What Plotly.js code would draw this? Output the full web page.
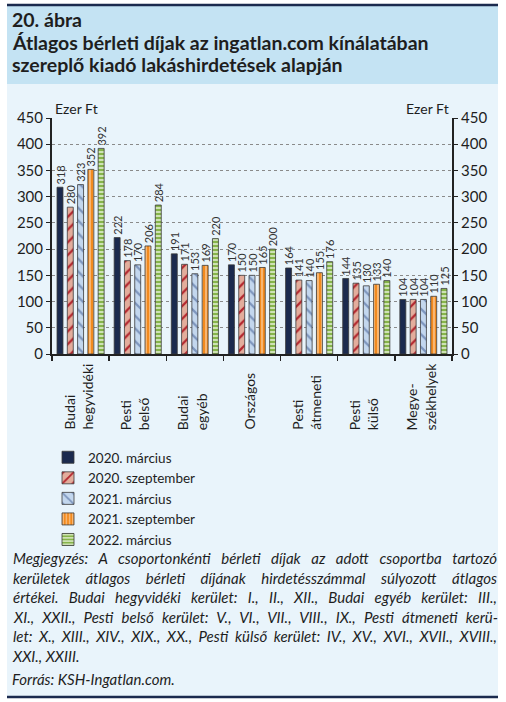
<!DOCTYPE html>
<html>
<head>
<meta charset="utf-8">
<script src="https://cdn.plot.ly/plotly-3.0.1.min.js"></script>
<style>
html,body{margin:0;padding:0;background:#fff;}
#chart{width:506px;height:702px;}
</style>
</head>
<body>
<div id="chart"></div>
<script>
// ---- data ----
const categories = ["Budai hegyvidéki","Pesti belső","Budai egyéb","Országos","Pesti átmeneti","Pesti külső","Megyeszékhelyek"];
const categoryLabels = ["Budai<br>hegyvidéki","Pesti<br>belső","Budai<br>egyéb","Országos","Pesti<br>átmeneti","Pesti<br>külső","Megye-<br>székhelyek"];
const seriesNames = ["2020. március","2020. szeptember","2021. március","2021. szeptember","2022. március"];
const v2020mar = [318,222,191,170,164,144,104];
const v2020sep = [280,178,171,150,141,135,104];
const v2021mar = [323,170,153,150,140,130,104];
const v2021sep = [352,206,169,165,155,133,110];
const v2022mar = [392,284,220,200,176,140,125];
const yTicks = [0,50,100,150,200,250,300,350,400,450];
const titleLines = ["20. ábra","Átlagos bérleti díjak az ingatlan.com kínálatában","szereplő kiadó lakáshirdetések alapján"];
const noteLines = [
 "Megjegyzés: A csoportonkénti bérleti díjak az adott csoportba tartozó",
 "kerületek átlagos bérleti díjának hirdetésszámmal súlyozott átlagos",
 "értékei. Budai hegyvidéki kerület: I., II., XII., Budai egyéb kerület: III.,",
 "XI., XXII., Pesti belső kerület: V., VI., VII., VIII., IX., Pesti átmeneti kerü-",
 "let: X., XIII., XIV., XIX., XX., Pesti külső kerület: IV., XV., XVI., XVII., XVIII.,",
 "XXI., XXIII."
];
const sourceLine = "Forrás: KSH-Ingatlan.com.";
const unitLabel = "Ezer Ft";

// ---- layout helpers ----
const W = 506, H = 702;
const xp = px => px / W;
const yp = py => 1 - py / H;
const FONT = "Lato, 'Open Sans', sans-serif";
const TXT = "#1e1e1e";
const NOTE_LEFT = 10;      // annotation anchor (box edge)
const NOTE_TEXT_LEFT = 13; // visible left edge of the justified lines

const styles = [
  {color:"#1b2a4e", pattern:{shape:""}},
  {color:"#e3ad9c", pattern:{shape:"/", fgcolor:"#b3262e", bgcolor:"#e3ad9c", size:9, solidity:0.25}},
  {color:"#c3d7ee", pattern:{shape:"\\", fgcolor:"#7d95bd", bgcolor:"#c3d7ee", size:9, solidity:0.25}},
  {color:"#f28a1e", pattern:{shape:"|", fgcolor:"#fcd3a8", bgcolor:"#f28a1e", size:4, solidity:0.3}},
  {color:"#86b44a", pattern:{shape:"-", fgcolor:"#eef6e2", bgcolor:"#86b44a", size:4, solidity:0.35}}
];
const values = [v2020mar, v2020sep, v2021mar, v2021sep, v2022mar];

const traces = values.map((vals, i) => ({
  type: "bar",
  name: seriesNames[i],
  x: categories,
  y: vals,
  text: vals.map(v => "\u00a0" + v),
  textposition: "outside",
  textangle: -90,
  cliponaxis: false,
  constraintext: "none",
  textfont: {family: FONT, size: 11, color: "#333"},
  marker: {
    color: styles[i].color,
    pattern: styles[i].pattern,
    line: {color: "#3a3a3a", width: 0.8}
  },
  hoverinfo: "skip"
}));
// invisible trace carrying the right-hand axis
traces.push({type:"scatter", x:[categories[0]], y:[0], yaxis:"y2", showlegend:false, mode:"markers", marker:{opacity:0}, hoverinfo:"skip"});

const annotations = [];
titleLines.forEach((t, i) => annotations.push({
  xref:"paper", yref:"paper", x:xp(10), y:yp(19 + i*23), xanchor:"left", yanchor:"middle",
  text:"<b>"+t+"</b>", showarrow:false, font:{family:FONT, size:19.5, color:TXT}
}));
categoryLabels.forEach((t, i) => annotations.push({
  xref:"x", yref:"paper", x:categories[i], y:yp(432), xanchor:"center", yanchor:"bottom",
  xshift:-3, text:t, textangle:-90, align:"left", showarrow:false,
  font:{family:FONT, size:14, color:TXT}
}));
annotations.push({xref:"paper", yref:"paper", x:xp(53), y:yp(108), xanchor:"left", yanchor:"middle",
  text:unitLabel, showarrow:false, font:{family:FONT, size:14, color:TXT}});
annotations.push({xref:"paper", yref:"paper", x:xp(451), y:yp(108), xanchor:"right", yanchor:"middle",
  text:unitLabel, showarrow:false, font:{family:FONT, size:14, color:TXT}});
const noteStart = annotations.length;
noteLines.forEach((t, i) => annotations.push({
  xref:"paper", yref:"paper", x:xp(NOTE_LEFT), y:yp(558 + i*19.5), xanchor:"left", yanchor:"middle",
  text:"<i>"+t+"</i>", showarrow:false, font:{family:FONT, size:15, color:TXT}
}));
annotations.push({xref:"paper", yref:"paper", x:xp(NOTE_LEFT), y:yp(679), xanchor:"left", yanchor:"middle",
  text:"<i>"+sourceLine+"</i>", showarrow:false, font:{family:FONT, size:15, color:TXT}});

const shapes = [
  {type:"rect", xref:"paper", yref:"paper", x0:xp(7), x1:xp(498), y0:yp(84), y1:yp(6), fillcolor:"#c4e3f3", line:{width:0}, layer:"below"},
  {type:"rect", xref:"paper", yref:"paper", x0:xp(7), x1:xp(498), y0:yp(696), y1:yp(84), fillcolor:"#e9f4fb", line:{width:0}, layer:"below"},
  {type:"line", xref:"paper", yref:"paper", x0:xp(7), x1:xp(498), y0:yp(5), y1:yp(5), line:{color:"#1b2a4e", width:2.5}},
  {type:"line", xref:"paper", yref:"paper", x0:xp(7), x1:xp(498), y0:yp(697), y1:yp(697), line:{color:"#1b2a4e", width:2.5}}
];

const axisFont = {family:FONT, size:15, color:TXT};
const layout = {
  width: W, height: H,
  margin: {l:0, r:0, t:0, b:0},
  paper_bgcolor: "#ffffff",
  plot_bgcolor: "rgba(0,0,0,0)",
  font: {family: FONT},
  barmode: "group",
  bargap: 0.1,
  bargroupgap: 0.42,
  showlegend: true,
  legend: {
    x: xp(48), y: yp(442), xanchor:"left", yanchor:"top",
    bgcolor:"rgba(0,0,0,0)", font:{family:FONT, size:13.5, color:TXT},
    tracegroupgap:0, itemwidth:30, traceorder:"normal"
  },
  xaxis: {
    domain: [xp(52), xp(452)],
    type: "category",
    showticklabels: false,
    showline: true, linecolor:"#222", linewidth: 2,
    ticks: "outside", ticklen: 5, tickcolor:"#222", tickwidth: 1.5,
    tickson: "boundaries",
    showgrid: false, fixedrange: true
  },
  yaxis: {
    domain: [yp(354), yp(118)],
    range: [0, 450],
    tickvals: yTicks,
    ticktext: yTicks.map(String),
    showline: true, linecolor:"#222", linewidth: 2,
    ticks: "outside", ticklen: 4, tickcolor:"#222",
    showgrid: true, gridcolor:"#8a8a8a", griddash:"dot", gridwidth: 1,
    zeroline: false,
    tickfont: axisFont
  },
  yaxis2: {
    overlaying: "y", side: "right", anchor:"x",
    range: [0, 450],
    tickvals: yTicks,
    ticktext: yTicks.map(String),
    showline: true, linecolor:"#222", linewidth: 2,
    ticks: "outside", ticklen: 4, tickcolor:"#222",
    showgrid: false, zeroline: false,
    tickfont: axisFont
  },
  annotations: annotations,
  shapes: shapes
};

Plotly.newPlot("chart", traces, layout, {displayModeBar:false, staticPlot:true}).then(gd => {
  // justify the note lines (all but the last one), as in the printed original
  const rightEdge = 497;
  const anns = gd.querySelectorAll(".annotation");
  const host = gd.getBoundingClientRect();
  for (let i = 0; i < noteLines.length - 1; i++) {
    const el = anns[noteStart + i];
    if (!el) continue;
    const txt = el.querySelector("text");
    if (!txt) continue;
    const targetWidth = rightEdge - NOTE_TEXT_LEFT;
    const len = txt.getComputedTextLength();
    const spaces = (noteLines[i].match(/ /g) || []).length;
    if (spaces > 0 && len < targetWidth) {
      txt.style.wordSpacing = ((targetWidth - len) / spaces).toFixed(2) + "px";
    }
    const r = txt.getBoundingClientRect();
    const delta = (host.left + NOTE_TEXT_LEFT) - r.left;
    const nodes = [txt].concat(Array.from(txt.querySelectorAll("tspan[x]")));
    nodes.forEach(n => {
      const x0 = parseFloat(n.getAttribute("x"));
      if (!isNaN(x0)) n.setAttribute("x", (x0 + delta).toFixed(2));
    });
  }
});
</script>
</body>
</html>
